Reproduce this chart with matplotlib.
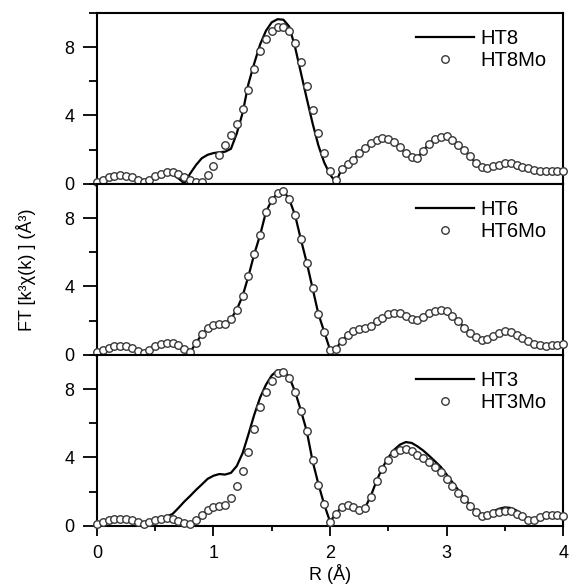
import matplotlib
matplotlib.use("Agg")
import matplotlib.pyplot as plt
import numpy as np
from matplotlib.ticker import MultipleLocator

plt.rcParams['font.family'] = ['Liberation Sans', 'DejaVu Sans']

# R grid (Angstrom), 0.05 step
r = np.round(np.arange(0, 4.0001, 0.05), 2)

ht8 = [0.15, 0.30, 0.42, 0.50, 0.52, 0.48, 0.38, 0.22, 0.06, 0.22,
       0.42, 0.56, 0.62, 0.55, 0.32, 0.03, 0.60, 1.10, 1.50, 1.70,
       1.80, 1.85, 1.88, 2.05, 2.95, 4.15, 5.85, 7.05, 8.15, 8.95,
       9.45, 9.63, 9.60, 9.20, 8.00, 6.50, 5.00, 3.55, 2.25, 1.25,
       0.55, 0.08, 0.88, 1.15, 1.40, 1.78, 2.10, 2.40, 2.58, 2.67,
       2.65, 2.45, 2.15, 1.78, 1.55, 1.52, 1.95, 2.35, 2.62, 2.75,
       2.78, 2.58, 2.30, 2.00, 1.62, 1.22, 0.98, 0.92, 1.02, 1.13,
       1.20, 1.20, 1.10, 1.00, 0.90, 0.83, 0.78, 0.77, 0.76, 0.76,
       0.76]
ht8mo = [0.10, 0.25, 0.38, 0.47, 0.50, 0.48, 0.38, 0.22, 0.08, 0.25,
         0.45, 0.60, 0.68, 0.68, 0.58, 0.42, 0.25, 0.10, 0.10, 0.50,
         1.05, 1.70, 2.25, 2.85, 3.50, 4.40, 5.50, 6.70, 7.75, 8.50,
         8.95, 9.18, 9.15, 8.95, 8.25, 7.10, 5.70, 4.30, 3.00, 1.80,
         0.75, 0.20, 0.88, 1.15, 1.40, 1.78, 2.10, 2.40, 2.58, 2.67,
         2.65, 2.45, 2.15, 1.78, 1.55, 1.52, 1.95, 2.35, 2.62, 2.75,
         2.78, 2.58, 2.30, 2.00, 1.62, 1.22, 0.98, 0.92, 1.02, 1.13,
         1.20, 1.20, 1.10, 1.00, 0.90, 0.83, 0.78, 0.77, 0.76, 0.76,
         0.76]

ht6 = [0.15, 0.30, 0.42, 0.50, 0.53, 0.50, 0.40, 0.22, 0.10, 0.30,
       0.50, 0.65, 0.72, 0.68, 0.55, 0.35, 0.15, 0.70, 1.20, 1.55,
       1.72, 1.78, 1.82, 2.10, 2.65, 3.45, 4.60, 5.90, 7.00, 8.35,
       9.05, 9.47, 9.60, 9.10, 8.17, 6.75, 5.40, 3.90, 2.40, 1.35,
       0.30, 0.35, 0.82, 1.17, 1.40, 1.50, 1.55, 1.70, 1.96, 2.18,
       2.37, 2.47, 2.42, 2.28, 2.12, 2.05, 2.22, 2.42, 2.58, 2.64,
       2.55, 2.30, 1.98, 1.60, 1.28, 1.02, 0.88, 0.90, 1.12, 1.30,
       1.37, 1.33, 1.18, 1.00, 0.82, 0.65, 0.57, 0.53, 0.55, 0.60,
       0.65]
ht6mo = list(ht6)

ht3 = [0.10, 0.22, 0.33, 0.40, 0.42, 0.40, 0.32, 0.20, 0.10, 0.22,
       0.35, 0.42, 0.55, 0.70, 1.05, 1.42, 1.75, 2.10, 2.42, 2.75,
       2.93, 3.03, 3.00, 3.10, 3.50, 4.25, 5.35, 6.50, 7.50, 8.25,
       8.80, 9.10, 9.10, 8.70, 7.85, 6.75, 5.55, 3.80, 2.45, 1.25,
       0.25, 0.70, 1.13, 1.23, 1.10, 0.92, 1.05, 1.75, 2.65, 3.40,
       4.00, 4.45, 4.75, 4.90, 4.85, 4.65, 4.40, 4.10, 3.78, 3.45,
       3.00, 2.55, 2.10, 1.65, 1.22, 0.85, 0.62, 0.68, 0.85, 1.00,
       1.08, 1.05, 0.90, 0.62, 0.25, 0.30, 0.52, 0.62, 0.65, 0.62,
       0.58]
ht3mo = [0.10, 0.22, 0.33, 0.40, 0.42, 0.40, 0.32, 0.20, 0.10, 0.22,
         0.35, 0.42, 0.45, 0.40, 0.30, 0.15, 0.12, 0.35, 0.65, 0.90,
         1.08, 1.15, 1.20, 1.60, 2.35, 3.22, 4.30, 5.65, 6.94, 7.85,
         8.50, 8.92, 8.98, 8.62, 7.80, 6.71, 5.55, 3.85, 2.40, 1.25,
         0.25, 0.70, 1.13, 1.23, 1.10, 0.92, 1.05, 1.70, 2.60, 3.33,
         3.88, 4.25, 4.45, 4.50, 4.38, 4.15, 3.95, 3.72, 3.45, 3.15,
         2.75, 2.35, 1.95, 1.55, 1.17, 0.80, 0.58, 0.62, 0.75, 0.83,
         0.86, 0.84, 0.72, 0.55, 0.35, 0.35, 0.52, 0.62, 0.65, 0.62,
         0.58]

panels = [("HT8", ht8, "HT8Mo", ht8mo),
          ("HT6", ht6, "HT6Mo", ht6mo),
          ("HT3", ht3, "HT3Mo", ht3mo)]

fig = plt.figure(figsize=(5.7, 5.85), dpi=100)
left, width = 0.170, 0.818
top, h = 0.978, 0.2923
axes = []
for i in range(3):
    ax = fig.add_axes([left, top - (i + 1) * h, width, h])
    axes.append(ax)

for i, (ax, (ln, ly, cn, cy)) in enumerate(zip(axes, panels)):
    ax.plot(r, ly, color='black', lw=1.6, label=ln, zorder=2)
    ax.plot(r, cy, ls='none', marker='o', ms=5.4, mfc='white', mec='#383838',
            mew=1.0, label=cn, zorder=3, clip_on=False)
    ax.set_xlim(0, 4)
    ax.set_ylim(0, 10)
    ax.yaxis.set_major_locator(MultipleLocator(4))
    ax.yaxis.set_minor_locator(MultipleLocator(2))
    ax.xaxis.set_major_locator(MultipleLocator(1))
    ax.xaxis.set_minor_locator(MultipleLocator(0.5))
    for s in ax.spines.values():
        s.set_linewidth(1.5)
    ax.tick_params(axis='y', which='major', direction='out', length=10,
                   width=1.3, labelsize=13, pad=6, right=False)
    ax.tick_params(axis='y', which='minor', direction='out', length=5.5,
                   width=1.3, right=False)
    ax.tick_params(axis='x', which='major', direction='out', length=7,
                   width=1.3, labelsize=13, pad=7, top=False)
    ax.tick_params(axis='x', which='minor', direction='out', length=3.6,
                   width=1.3, top=False)
    if i < 2:
        ax.tick_params(axis='x', which='both', bottom=False, labelbottom=False)
    ax.legend(loc='upper right', bbox_to_anchor=(0.99, 0.975),
              frameon=False, fontsize=14.5, handlelength=2.9,
              handletextpad=0.3, labelspacing=0.15, borderaxespad=0.2)

axes[2].set_xlabel("R (Å)", fontsize=13, labelpad=1)
fig.text(0.045, 1 - 270 / 585, "FT [k³χ(k) ] (Å³)", rotation=90,
         ha='center', va='center', fontsize=13)

fig.savefig("out.png", dpi=100)
